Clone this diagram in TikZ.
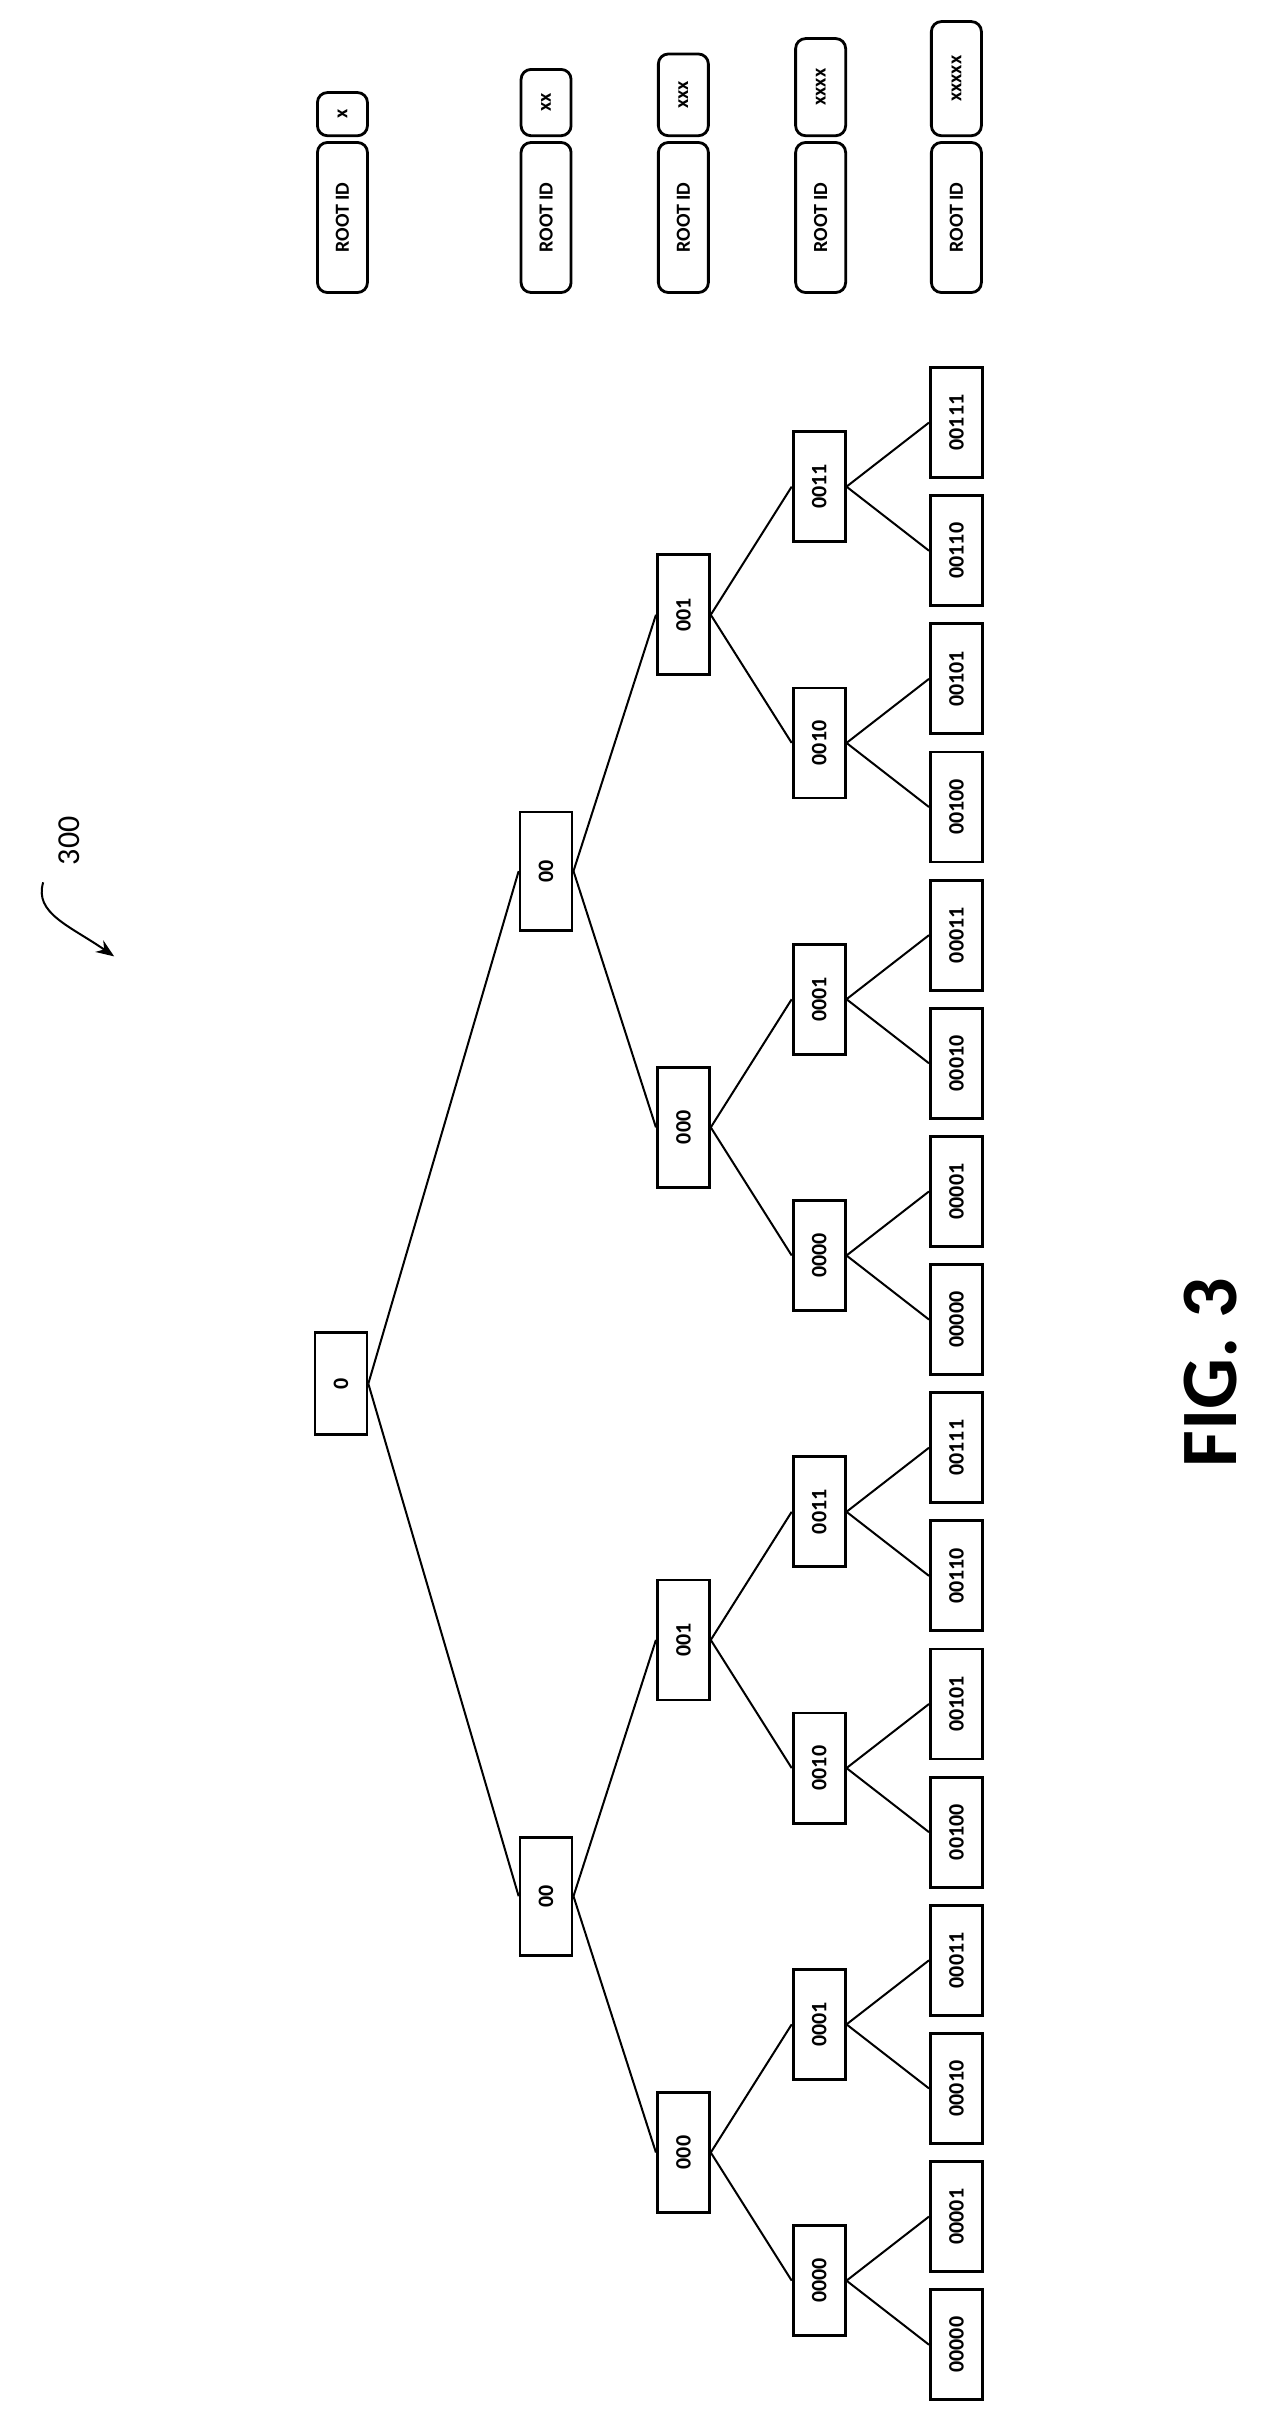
\documentclass[tikz,border=0pt]{standalone}
\usepackage{fontspec}
\setmainfont{Carlito}
\usetikzlibrary{arrows.meta}
\begin{document}
\begin{tikzpicture}[x=0.771pt,y=0.771pt,
  bx/.style={draw,line width=1.4pt,rotate=90,inner sep=0pt,minimum height=26pt,font=\fontsize{11}{11}\selectfont\bfseries},
  pill/.style={draw,line width=1.4pt,rounded corners=5pt,rotate=90,inner sep=0pt,minimum height=25pt,font=\fontsize{10}{10}\selectfont\bfseries},
  ed/.style={line width=1pt}]
\useasboundingbox (0,0) rectangle (826,-1574);
% root
\node[bx,minimum width=51pt] (r) at (221,-897) {0};
\foreach \m/\t in {0/00,1/00}{
  \node[bx,minimum width=59pt] (a\m) at (354,{-(1520-83.07*(8*\m+3.5))}) {\t};
  \draw[ed] (r.south) -- (a\m.north);}
\foreach \k/\t in {0/000,1/001,2/000,3/001}{
  \pgfmathtruncatemacro\p{int(\k/2)}
  \node[bx,minimum width=60pt] (b\k) at (443,{-(1520-83.07*(4*\k+1.5))}) {\t};
  \draw[ed] (a\p.south) -- (b\k.north);}
\foreach \j/\t in {0/0000,1/0001,2/0010,3/0011,4/0000,5/0001,6/0010,7/0011}{
  \pgfmathtruncatemacro\p{int(\j/2)}
  \node[bx,minimum width=55pt] (c\j) at (531,{-(1520-83.07*(2*\j+0.5))}) {\t};
  \draw[ed] (b\p.south) -- (c\j.north);}
\foreach \i/\t in {0/00000,1/00001,2/00010,3/00011,4/00100,5/00101,6/00110,7/00111,8/00000,9/00001,10/00010,11/00011,12/00100,13/00101,14/00110,15/00111}{
  \pgfmathtruncatemacro\p{int(\i/2)}
  \node[bx,minimum width=55pt] (d\i) at (620,{-(1520-83.07*\i)}) {\t};
  \draw[ed] (c\p.south) -- (d\i.north);}
% legend
\foreach \n/\x/\len/\t in {1/222/28/x,2/354/43/xx,3/443/53/xxx,4/532/63/xxxx,5/620/74/xxxxx}{
  \node[pill,minimum width=75pt] (rid\n) at (\x,-141) {ROOT ID};
  \node[pill,minimum width=\len*0.771pt] (id\n) at (\x,{-(88-\len/2)}) {\t};}
% label 300
\node[rotate=90,font=\fontsize{16}{16}\selectfont] (lbl) at (45,-545) {300};
\coordinate (lblEnd) at (74,-620);
\draw[line width=1pt,-{Stealth[length=9pt,width=7pt]}] (28,-572) .. controls (22,-592) and (45,-600) .. (lblEnd);
\node[rotate=90,font=\fontsize{40}{40}\selectfont\bfseries] (fig) at (785,-890) {FIG. 3};
\end{tikzpicture}
\end{document}
